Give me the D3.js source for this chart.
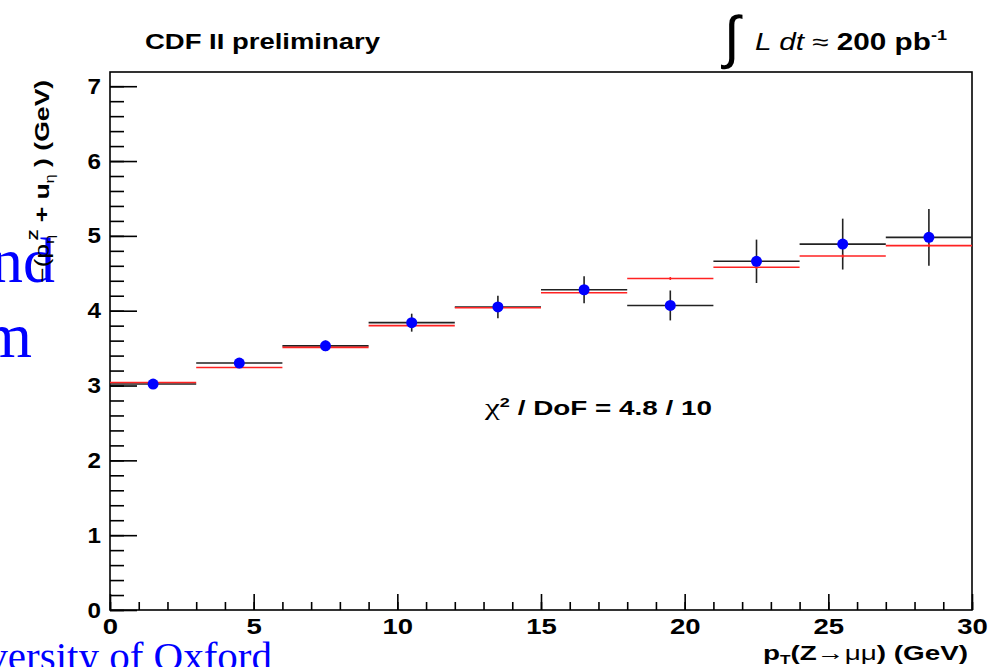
<!DOCTYPE html>
<html><head><meta charset="utf-8">
<script src="https://cdn.jsdelivr.net/npm/d3@7"></script>
<style>body{margin:0;background:#fff;}svg{display:block;}</style>
</head><body>
<svg id="c" width="993" height="667"></svg>
<script>
// ---- data ----
const binLow  = [0, 3, 6, 9, 12, 15, 18, 21, 24, 27];
const binHigh = [3, 6, 9, 12, 15, 18, 21, 24, 27, 30];
const dataY   = [3.02, 3.30, 3.53, 3.84, 4.05, 4.28, 4.07, 4.66, 4.89, 4.98];
const dataErr = [0.04, 0.04, 0.07, 0.12, 0.15, 0.18, 0.20, 0.29, 0.34, 0.38];
const predY   = [3.04, 3.24, 3.51, 3.80, 4.04, 4.24, 4.43, 4.58, 4.73, 4.87];
const predErr = [0.01, 0.01, 0.01, 0.01, 0.01, 0.01, 0.02, 0.02, 0.02, 0.02];
const xMajorTicks = [0, 5, 10, 15, 20, 25, 30];
const xMinorTicks = d3.range(0, 31, 1);
const yMajorTicks = [0, 1, 2, 3, 4, 5, 6, 7];
const yMinorTicks = d3.range(0, 7.19, 0.2);
const xDomain = [0, 30];
const yDomain = [0, 7.19];

const svg = d3.select("#c");
const L = 110, R = 972, T = 72, B = 610;
const x = d3.scaleLinear().domain(xDomain).range([L, R]);
const y = d3.scaleLinear().domain(yDomain).range([B, T]);
const sans = "'Liberation Sans', Arial, Helvetica, sans-serif";
const serif = "'Liberation Serif', 'Times New Roman', serif";

// ---- slide text behind ----
const slide = svg.append("g").attr("fill", "#0000ff").attr("font-family", serif);
slide.append("text").attr("x", 55).attr("y", 282).attr("text-anchor", "end").attr("font-size", 64).text("nd");
slide.append("text").attr("x", 32).attr("y", 357).attr("text-anchor", "end").attr("font-size", 64).text("m");
slide.append("text").attr("x", 272).attr("y", 670).attr("text-anchor", "end").attr("font-size", 41).text("University of Oxford");

// ---- axes ----
function stretchLabels(g, sx) {
  g.selectAll("text").each(function() {
    const t = d3.select(this);
    const tx = +t.attr("x") || 0, ty = +t.attr("y") || 0;
    t.attr("x", 0).attr("y", 0).attr("transform", `translate(${tx},${ty}) scale(${sx},1)`);
  });
}
const axisStyle = g => {
  g.select(".domain").remove();
  g.selectAll("line").attr("stroke", "#000").attr("stroke-width", 1.6);
  g.selectAll("text").attr("font-family", sans).attr("font-weight", "bold").attr("font-size", 22).attr("fill", "#000");
};
const gy = svg.append("g").attr("transform", `translate(${L},0)`);
gy.append("g").call(d3.axisLeft(y).tickValues(yMinorTicks).tickSize(-14).tickFormat("")).call(axisStyle);
const gyM = gy.append("g").call(d3.axisLeft(y).tickValues(yMajorTicks).tickSize(-27).tickPadding(9).tickFormat(d3.format("d"))).call(axisStyle);
stretchLabels(gyM, 1.1);

const gx = svg.append("g").attr("transform", `translate(0,${B})`);
gx.append("g").call(d3.axisBottom(x).tickValues(xMinorTicks).tickSize(-8).tickFormat("")).call(axisStyle);
const gxM = gx.append("g").call(d3.axisBottom(x).tickValues(xMajorTicks).tickSize(-16).tickPadding(8).tickFormat(d3.format("d"))).call(axisStyle);
stretchLabels(gxM, 1.25);

// frame
svg.append("rect").attr("x", L).attr("y", T).attr("width", R - L).attr("height", B - T)
  .attr("fill", "none").attr("stroke", "#000").attr("stroke-width", 1.6);

// ---- data marks ----
const idx = d3.range(binLow.length);
const gData = svg.append("g");
gData.selectAll("line.dh").data(idx).join("line").attr("class", "dh")
  .attr("x1", i => x(binLow[i])).attr("x2", i => x(binHigh[i]))
  .attr("y1", i => y(dataY[i])).attr("y2", i => y(dataY[i]))
  .attr("stroke", "#222").attr("stroke-width", 1.6);
gData.selectAll("line.dv").data(idx).join("line").attr("class", "dv")
  .attr("x1", i => x((binLow[i] + binHigh[i]) / 2)).attr("x2", i => x((binLow[i] + binHigh[i]) / 2))
  .attr("y1", i => y(dataY[i] - dataErr[i])).attr("y2", i => y(dataY[i] + dataErr[i]))
  .attr("stroke", "#222").attr("stroke-width", 1.6);
const gPred = svg.append("g");
gPred.selectAll("line.ph").data(idx).join("line").attr("class", "ph")
  .attr("x1", i => x(binLow[i])).attr("x2", i => x(binHigh[i]))
  .attr("y1", i => y(predY[i])).attr("y2", i => y(predY[i]))
  .attr("stroke", "#ff2222").attr("stroke-width", 1.6);
gPred.selectAll("line.pv").data(idx).join("line").attr("class", "pv")
  .attr("x1", i => x((binLow[i] + binHigh[i]) / 2)).attr("x2", i => x((binLow[i] + binHigh[i]) / 2))
  .attr("y1", i => y(predY[i] - predErr[i])).attr("y2", i => y(predY[i] + predErr[i]))
  .attr("stroke", "#ff2222").attr("stroke-width", 1.6);
svg.append("g").selectAll("circle").data(idx).join("circle")
  .attr("cx", i => x((binLow[i] + binHigh[i]) / 2)).attr("cy", i => y(dataY[i]))
  .attr("r", 5.5).attr("fill", "#0000ff");

// ---- texts ----
svg.append("text").attr("x", 145).attr("y", 49).attr("font-family", sans).attr("font-weight", "bold")
  .attr("font-size", 22).attr("textLength", 235).attr("lengthAdjust", "spacingAndGlyphs").text("CDF II preliminary");

svg.append("text").attr("x", 724).attr("y", 57).attr("font-family", "'DejaVu Sans', sans-serif").attr("font-size", 58)
  .attr("font-weight", "200").text("∫");
const lum = svg.append("text").attr("x", 755).attr("y", 50).attr("font-family", sans).attr("font-size", 23)
  .attr("textLength", 192).attr("lengthAdjust", "spacingAndGlyphs");
lum.append("tspan").attr("font-style", "italic").text("L dt");
lum.append("tspan").text(" ≈ ");
lum.append("tspan").attr("font-weight", "bold").text("200 pb");
lum.append("tspan").attr("font-weight", "bold").attr("font-size", 14).attr("dy", -10).text("-1");

const chi = svg.append("text").attr("x", 485).attr("y", 415).attr("font-family", sans).attr("font-size", 20)
  .attr("font-weight", "bold").attr("textLength", 227).attr("lengthAdjust", "spacingAndGlyphs");
chi.append("tspan").attr("font-weight", "normal").attr("font-family", serif).attr("font-size", 24).text("χ");
chi.append("tspan").attr("font-size", 13).attr("dy", -8).text("2");
chi.append("tspan").attr("dy", 8).text(" / DoF = 4.8 / 10");

const xt = svg.append("text").attr("x", 763).attr("y", 660).attr("font-family", sans).attr("font-size", 21)
  .attr("font-weight", "bold").attr("textLength", 205).attr("lengthAdjust", "spacingAndGlyphs");
xt.append("tspan").text("p");
xt.append("tspan").attr("font-size", 13).attr("dy", 4).text("T");
xt.append("tspan").attr("dy", -4).text("(Z→");
xt.append("tspan").attr("font-weight", "normal").text("μμ");
xt.append("tspan").text(") (GeV)");

const yt = svg.append("text").attr("transform", "translate(49,283) rotate(-90) scale(1.33,1)").attr("font-family", sans)
  .attr("font-size", 20).attr("font-weight", "bold");
yt.append("tspan").attr("font-weight", "normal").text("−(p");
yt.append("tspan").attr("font-size", 12).attr("font-weight", "normal").attr("dy", 5).text("η");
yt.append("tspan").attr("font-size", 13).attr("dy", -16).attr("dx", -4).text("Z");
yt.append("tspan").attr("dy", 11).text(" + u");
yt.append("tspan").attr("font-size", 12).attr("font-weight", "normal").attr("dy", 5).text("η");
yt.append("tspan").attr("dy", -5).text(" ) (GeV)");
</script>
</body></html>
